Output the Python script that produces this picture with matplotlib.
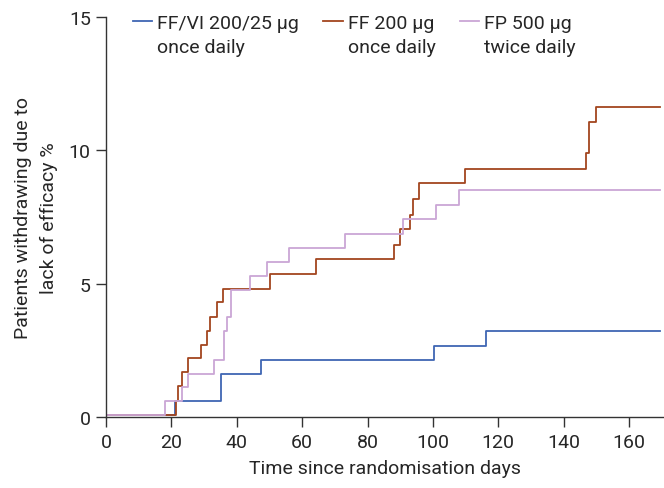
import numpy as np
import matplotlib
matplotlib.use("Agg")
import matplotlib.pyplot as plt

# step data (days, % withdrawing)
days_ffvi = [0, 21.2, 35.3, 47.3, 100.3, 116.3, 169.5]
pct_ffvi = [0.07, 0.61, 1.62, 2.16, 2.68, 3.22, 3.22]

days_ff = [0, 21.3, 22.1, 23.1, 25.1, 29.1, 31.0, 31.9, 34.1, 35.9, 50.1, 64.1,
           88.0, 89.9, 92.9, 94.0, 95.9, 109.8, 146.8, 147.9, 149.9, 169.5]
pct_ff = [0.07, 0.62, 1.16, 1.69, 2.21, 2.72, 3.24, 3.77, 4.31, 4.82, 5.38, 5.92,
          6.47, 7.05, 7.59, 8.19, 8.78, 9.30, 9.89, 11.05, 11.63, 11.63]

days_fp = [0, 18.2, 23.1, 25.1, 33.1, 36.0, 37.0, 38.1, 44.0, 49.3, 56.0, 73.1,
           91.0, 100.8, 107.9, 169.5]
pct_fp = [0.07, 0.60, 1.12, 1.62, 2.16, 3.22, 3.74, 4.78, 5.30, 5.80, 6.35, 6.88,
          7.42, 7.95, 8.51, 8.51]

labels = ['FF/VI 200/25 \u00b5g\nonce daily', 'FF 200 \u00b5g\nonce daily',
          'FP 500 \u00b5g\ntwice daily']
colors = ['#3f66b3', '#a3451f', '#caa6d6']

xticks = [0, 20, 40, 60, 80, 100, 120, 140, 160]
yticks = [0, 5, 10, 15]

plt.rcParams['font.family'] = ['Roboto', 'DejaVu Sans']
fs = 14
axcol = '#333333'
txtcol = '#262626'

fig = plt.figure(figsize=(6.64, 4.89), dpi=100)
ax = fig.add_axes([106 / 664, 1 - 418.3 / 489, 1 - 106 / 664, (418.3 - 17.8) / 489])

ax.step(days_ffvi, pct_ffvi, where='post', color=colors[0], lw=1.3, label=labels[0])
ax.step(days_ff, pct_ff, where='post', color=colors[1], lw=1.3, label=labels[1])
ax.step(days_fp, pct_fp, where='post', color=colors[2], lw=1.3, label=labels[2])

ax.set_xlim(0, 170.7)
ax.set_ylim(0, 15)
ax.set_xticks(xticks)
ax.set_yticks(yticks)
ax.spines['top'].set_visible(False)
ax.spines['right'].set_visible(False)
for s in ['left', 'bottom']:
    ax.spines[s].set_color(axcol)
    ax.spines[s].set_linewidth(1.0)
ax.tick_params(direction='out', length=7, width=1.0, color=axcol,
               labelsize=fs, labelcolor=txtcol, pad=4)

ax.set_xlabel('Time since randomisation days', fontsize=fs, color=txtcol, labelpad=6)
ax.set_ylabel('Patients withdrawing due to\nlack of efficacy %', fontsize=fs,
              color=txtcol, labelpad=8, linespacing=1.5)

leg = ax.legend(loc='upper left', bbox_to_anchor=(0.017, 1.05), ncol=3, frameon=False,
                fontsize=fs, handlelength=1.0, handletextpad=0.25, columnspacing=1.25,
                labelspacing=0.2, labelcolor=txtcol)
for t in leg.get_texts():
    t.set_linespacing(1.4)
# move handles up to line up with the first text line
for line in leg.get_lines():
    line.set_ydata(np.asarray(line.get_ydata()) + 10.5)

fig.savefig('out.png', dpi=100)
